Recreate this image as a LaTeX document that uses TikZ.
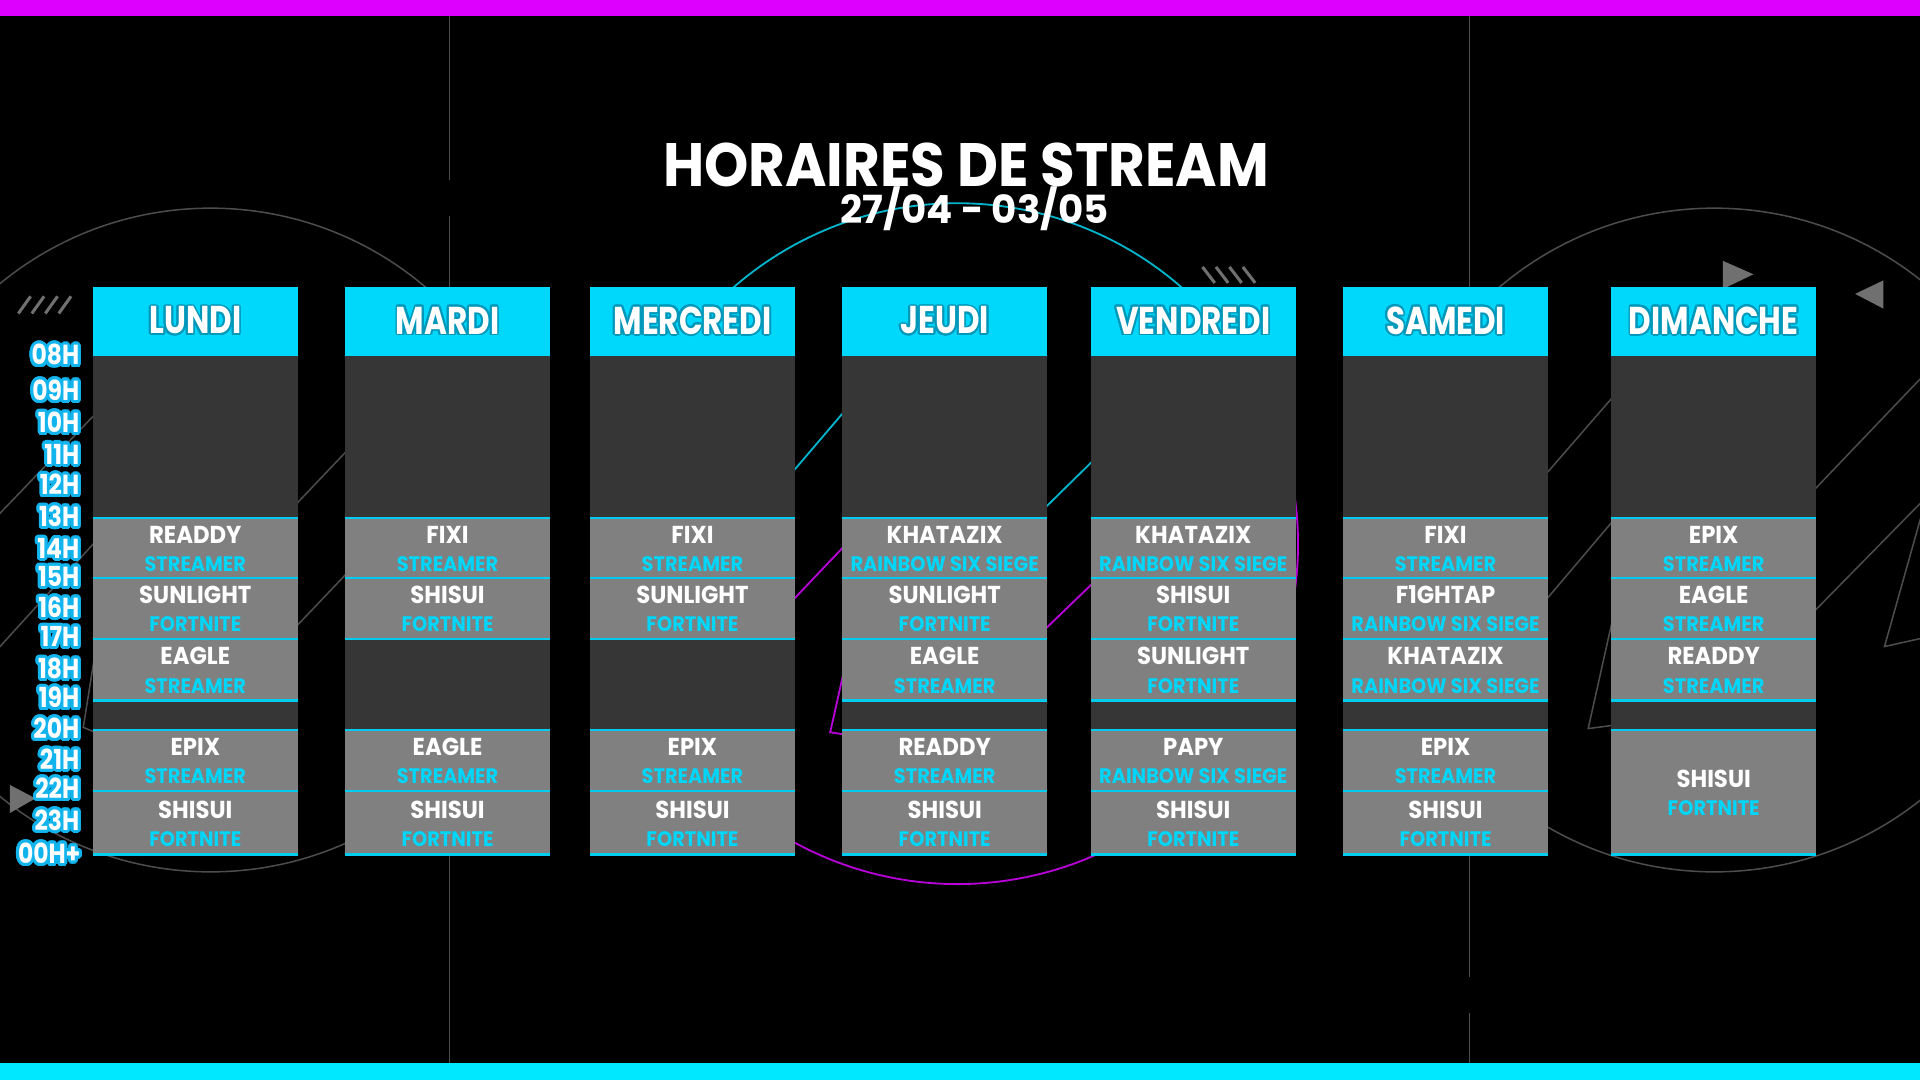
\documentclass[tikz,border=0pt]{standalone}
\usepackage{fontspec}
\usepackage{contour}
\setmainfont{Poppins}
\newfontfamily\titlefont{Poppins}[FakeStretch=0.92]
\newfontfamily\datefont{Poppins}
\newfontfamily\dayfont{Poppins}[FakeStretch=0.8]
\newfontfamily\playerfont{Poppins}[FakeStretch=0.93]
\newfontfamily\gamefont{Poppins}[FakeStretch=0.92]
\newfontfamily\hourfont{Poppins}[FakeStretch=0.85]
\contournumber{24}

\definecolor{barpink}{HTML}{DD00FF}
\definecolor{barcyan}{HTML}{00E8FF}
\definecolor{headcyan}{HTML}{00D8FB}
\definecolor{headshade}{HTML}{0098BA}
\definecolor{bodygray}{HTML}{363636}
\definecolor{slotgray}{HTML}{808080}
\definecolor{linecyan}{HTML}{00CCF0}
\definecolor{gamecyan}{HTML}{00D6FA}
\definecolor{hourcyan}{HTML}{12B4EE}
\definecolor{decogray}{HTML}{4C4C4C}
\definecolor{markgray}{HTML}{707070}
\definecolor{decocyan}{HTML}{00B4CC}
\definecolor{decomagenta}{HTML}{B800D8}

\newcommand{\dayname}[1]{{\contourlength{0.9pt}\contour{headshade}{#1}}}
\newcommand{\hourlabel}[1]{{\contourlength{1.5pt}\contour{hourcyan}{#1}}}

% header + empty body of one day
\newcommand{\daycolumn}[2]{%
  \fill[head fill] (0,234) rectangle (167,291);
  \fill[body fill] (0,291) rectangle (167,698);
  \node[day label] (#1) at (83.5,262.5) {\dayname{#2}};
}
% one stream slot: name, top, bottom, streamer, game
\newcommand{\streamslot}[5]{%
  \fill[slot fill] (0,#2) rectangle (167,#3);
  \draw[slot line] (0,#2) -- (167,#2) (0,#3) -- (167,#3);
  \node[player] (#1) at (83.5,{(#2+#3)/2-11}) {#4};
  \node[game] (#1-game) at (83.5,{(#2+#3)/2+13}) {#5};
}

\begin{document}
\begin{tikzpicture}[
    x=0.6pt, y=-0.6pt,
    head fill/.style={fill=headcyan},
    body fill/.style={fill=bodygray},
    slot fill/.style={fill=slotgray},
    slot line/.style={draw=linecyan, line width=1.2pt},
    day label/.style={text=white, font=\dayfont\bfseries\fontsize{19}{19}\selectfont, inner sep=0},
    player/.style={text=white, font=\playerfont\bfseries\fontsize{12}{12}\selectfont, inner sep=0},
    game/.style={text=gamecyan, font=\gamefont\bfseries\fontsize{10.3}{10.3}\selectfont, inner sep=0},
    hour/.style={text=white, font=\hourfont\bfseries\fontsize{13.5}{13.5}\selectfont, anchor=east, inner sep=0},
    title/.style={text=white, font=\titlefont\bfseries\fontsize{30}{30}\selectfont, inner sep=0},
    subtitle/.style={text=white, font=\datefont\bfseries\fontsize{19}{19}\selectfont, inner sep=0, text height=13pt, text depth=0pt},
    deco/.style={draw=decogray, line width=0.75pt},
    deco cyan/.style={draw=decocyan, line width=0.9pt},
    deco magenta/.style={draw=decomagenta, line width=0.9pt},
    hatch/.style={draw=markgray, line width=1.5pt},
    marker/.style={fill=markgray}
]

\useasboundingbox (0,0) rectangle (1568,882);
\clip (0,0) rectangle (1568,882);
\fill[black] (0,0) rectangle (1568,882);

% Bars
\fill[barpink] (0,0) rectangle (1568,13);
\fill[barcyan] (0,868) rectangle (1568,882);

% Background decoration
\draw[deco] (367,13) -- (367,147) (367,176) -- (367,868);
\draw[deco] (1200,13) -- (1200,798) (1200,827) -- (1200,868);

\draw[deco] (172,441) circle (271);
\draw[deco] (-20,440) -- (100,315);
\draw[deco] (-20,550) -- (100,418);
\draw[deco] (233,421) -- (292,359);
\draw[deco] (233,521) -- (292,459);
\draw[deco] (79,525) -- (68,594) -- (80,599);

\draw[deco] (1400,441) circle (271);
\draw[deco] (1254,397) -- (1326,314);
\draw[deco] (1254,500) -- (1326,415);
\draw[deco] (1474,408) -- (1580,297);
\draw[deco] (1474,507) -- (1580,399);
\draw[deco] (1320,492) -- (1297,595) -- (1320,592);
\draw[deco] (1575,400) -- (1539,528) -- (1575,520);

\draw[deco cyan] (782,444) ++(190:278) arc (190:348:278);
\draw[deco magenta] (782,444) ++(-12:278) arc (-12:190:278);
\draw[deco cyan] (640,394) -- (698,326);
\draw[deco cyan] (845,423) -- (901,368);
\draw[deco magenta] (640,498) -- (698,437);
\draw[deco magenta] (845,522) -- (901,468);
\draw[deco magenta] (691,540) -- (678,598) -- (691,600);

% Marks
\foreach \k in {0,1,2,3}
  \draw[hatch] ({15+11*\k},256) -- ({25+11*\k},242);
\foreach \k in {0,1,2,3}
  \draw[hatch] ({982+11*\k},218) -- ({992+11*\k},231);
\fill[marker] (1407,213) -- (1432,224) -- (1407,236) -- cycle;
\fill[marker] (1538,229) -- (1515,240) -- (1538,252) -- cycle;
\fill[marker] (8,641) -- (29,652) -- (8,664) -- cycle;

% Title
\node[title] (title) at (789,134.5) {HORAIRES DE STREAM};
\node[subtitle] (dates) at (796,172) {27/04 - 03/05};

% Hours
\node[hour] (h08) at (65,291) {\hourlabel{08H}};
\node[hour] (h09) at (65,320) {\hourlabel{09H}};
\node[hour] (h10) at (65,346) {\hourlabel{10H}};
\node[hour] (h11) at (65,372) {\hourlabel{11H}};
\node[hour] (h12) at (65,397) {\hourlabel{12H}};
\node[hour] (h13) at (65,423) {\hourlabel{13H}};
\node[hour] (h14) at (65,449) {\hourlabel{14H}};
\node[hour] (h15) at (65,472) {\hourlabel{15H}};
\node[hour] (h16) at (65,497) {\hourlabel{16H}};
\node[hour] (h17) at (65,521) {\hourlabel{17H}};
\node[hour] (h18) at (65,547) {\hourlabel{18H}};
\node[hour] (h19) at (65,571) {\hourlabel{19H}};
\node[hour] (h20) at (65,596) {\hourlabel{20H}};
\node[hour] (h21) at (65,621) {\hourlabel{21H}};
\node[hour] (h22) at (65,645) {\hourlabel{22H}};
\node[hour] (h23) at (65,671) {\hourlabel{23H}};
\node[hour] (h00) at (66,698) {\hourlabel{00H+}};

% Lundi
\begin{scope}[shift={(76,0)}]
  \daycolumn{lundi}{LUNDI}
  \streamslot{lun1}{423}{472}{READDY}{STREAMER}
  \streamslot{lun2}{472}{522}{SUNLIGHT}{FORTNITE}
  \streamslot{lun3}{522}{572}{EAGLE}{STREAMER}
  \streamslot{lun4}{596}{646}{EPIX}{STREAMER}
  \streamslot{lun5}{646}{698}{SHISUI}{FORTNITE}
\end{scope}

% Mardi
\begin{scope}[shift={(282,0)}]
  \daycolumn{mardi}{MARDI}
  \streamslot{mar1}{423}{472}{FIXI}{STREAMER}
  \streamslot{mar2}{472}{522}{SHISUI}{FORTNITE}
  \streamslot{mar4}{596}{646}{EAGLE}{STREAMER}
  \streamslot{mar5}{646}{698}{SHISUI}{FORTNITE}
\end{scope}

% Mercredi
\begin{scope}[shift={(482,0)}]
  \daycolumn{mercredi}{MERCREDI}
  \streamslot{mer1}{423}{472}{FIXI}{STREAMER}
  \streamslot{mer2}{472}{522}{SUNLIGHT}{FORTNITE}
  \streamslot{mer4}{596}{646}{EPIX}{STREAMER}
  \streamslot{mer5}{646}{698}{SHISUI}{FORTNITE}
\end{scope}

% Jeudi
\begin{scope}[shift={(688,0)}]
  \daycolumn{jeudi}{JEUDI}
  \streamslot{jeu1}{423}{472}{KHATAZIX}{RAINBOW SIX SIEGE}
  \streamslot{jeu2}{472}{522}{SUNLIGHT}{FORTNITE}
  \streamslot{jeu3}{522}{572}{EAGLE}{STREAMER}
  \streamslot{jeu4}{596}{646}{READDY}{STREAMER}
  \streamslot{jeu5}{646}{698}{SHISUI}{FORTNITE}
\end{scope}

% Vendredi
\begin{scope}[shift={(891,0)}]
  \daycolumn{vendredi}{VENDREDI}
  \streamslot{ven1}{423}{472}{KHATAZIX}{RAINBOW SIX SIEGE}
  \streamslot{ven2}{472}{522}{SHISUI}{FORTNITE}
  \streamslot{ven3}{522}{572}{SUNLIGHT}{FORTNITE}
  \streamslot{ven4}{596}{646}{PAPY}{RAINBOW SIX SIEGE}
  \streamslot{ven5}{646}{698}{SHISUI}{FORTNITE}
\end{scope}

% Samedi
\begin{scope}[shift={(1097,0)}]
  \daycolumn{samedi}{SAMEDI}
  \streamslot{sam1}{423}{472}{FIXI}{STREAMER}
  \streamslot{sam2}{472}{522}{F1GHTAP}{RAINBOW SIX SIEGE}
  \streamslot{sam3}{522}{572}{KHATAZIX}{RAINBOW SIX SIEGE}
  \streamslot{sam4}{596}{646}{EPIX}{STREAMER}
  \streamslot{sam5}{646}{698}{SHISUI}{FORTNITE}
\end{scope}

% Dimanche
\begin{scope}[shift={(1316,0)}]
  \daycolumn{dimanche}{DIMANCHE}
  \streamslot{dim1}{423}{472}{EPIX}{STREAMER}
  \streamslot{dim2}{472}{522}{EAGLE}{STREAMER}
  \streamslot{dim3}{522}{572}{READDY}{STREAMER}
  \streamslot{dim4}{596}{698}{SHISUI}{FORTNITE}
\end{scope}

\end{tikzpicture}
\end{document}
